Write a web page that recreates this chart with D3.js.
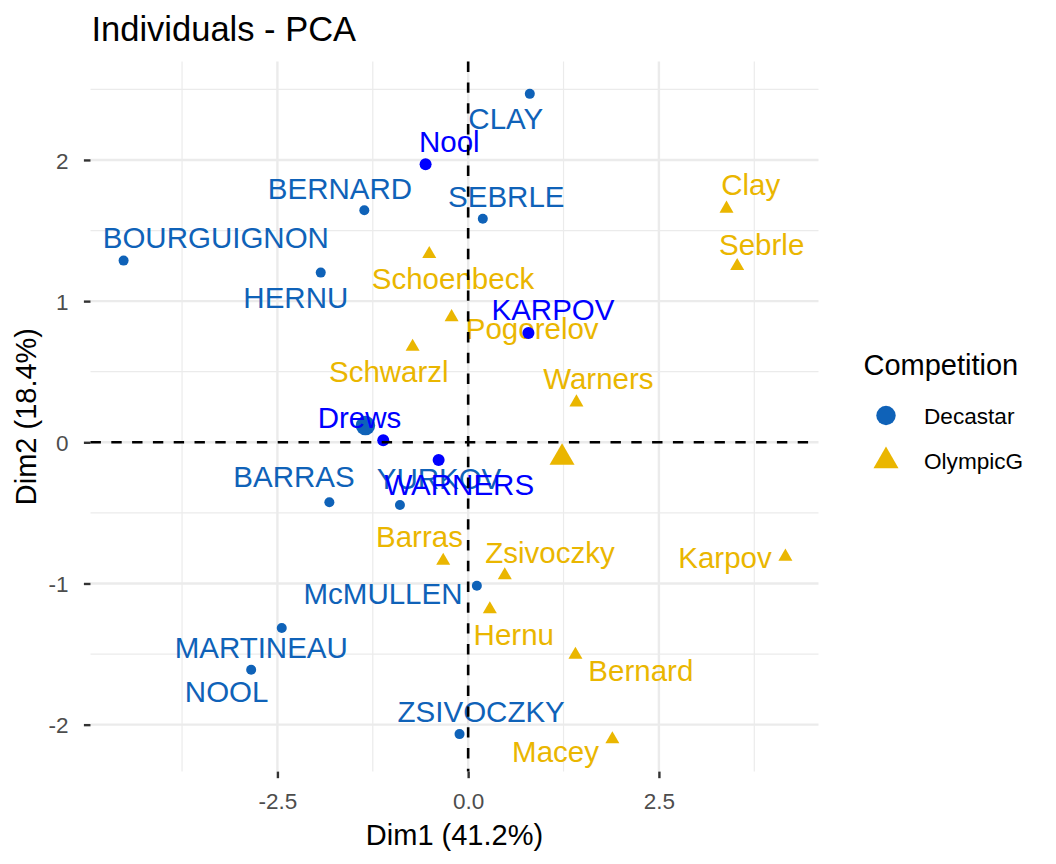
<!DOCTYPE html>
<html>
<head>
<meta charset="utf-8">
<script src="https://cdn.jsdelivr.net/npm/d3@7"></script>
<style>
  body { margin: 0; background: #ffffff; }
  text { font-family: "Liberation Sans", Arial, Helvetica, sans-serif; }
</style>
</head>
<body>
<svg id="chart" width="1056" height="864"></svg>
<script>
// ---------------- data ----------------
const decastarNames = ["SEBRLE","CLAY","BERNARD","YURKOV","ZSIVOCZKY","McMULLEN","MARTINEAU","HERNU","BARRAS","NOOL","BOURGUIGNON"];
const decastarDim1  = [0.192, 0.808, -1.361, -0.894, -0.113, 0.114, -2.443, -1.932, -1.819, -2.844, -4.516];
const decastarDim2  = [1.584, 2.468, 1.644, -0.444, -2.067, -1.016, -1.316, 1.202, -0.425, -1.611, 1.287];
// repelled label anchors (data units)
const decastarLabelDim1 = [0.500, 0.493, -1.680, -0.382, 0.171, -1.116, -2.712, -2.259, -2.283, -3.165, -3.307];
const decastarLabelDim2 = [1.669, 2.218, 1.724, -0.330, -1.979, -1.145, -1.530, 0.950, -0.314, -1.842, 1.375];

const olympicNames = ["Sebrle","Clay","Karpov","Macey","Warners","Zsivoczky","Hernu","Bernard","Schwarzl","Pogorelov","Schoenbeck","Barras"];
const olympicDim1  = [3.526, 3.386, 4.158, 1.890, 1.419, 0.480, 0.284, 1.406, -0.728, -0.217, -0.510, -0.327];
const olympicDim2  = [1.249, 1.655, -0.810, -2.104, 0.283, -0.942, -1.183, -1.505, 0.677, 0.886, 1.334, -0.839];
const olympicLabelDim1 = [3.847, 3.704, 3.366, 1.145, 1.707, 1.073, 0.598, 2.263, -1.040, 0.839, -0.199, -0.638];
const olympicLabelDim2 = [1.327, 1.752, -0.892, -2.263, 0.381, -0.857, -1.436, -1.691, 0.430, 0.732, 1.084, -0.744];

const supNames = ["KARPOV","WARNERS","Nool","Drews"];
const supDim1  = [0.790, -0.387, -0.558, -1.113];
const supDim2  = [0.774, -0.125, 1.970, 0.014];
const supLabelDim1 = [1.112, -0.117, -0.247, -1.424];
const supLabelDim2 = [0.867, -0.373, 2.059, 0.0995];

const groups = ["Decastar", "OlympicG"];

const xTickValues = [-2.5, 0, 2.5];
const xTickLabels = ["-2.5", "0.0", "2.5"];
const xMinorValues = [-3.75, -1.25, 1.25, 3.75];
const yTickValues = [-2, -1, 0, 1, 2];
const yTickLabels = ["-2", "-1", "0", "1", "2"];
const yMinorValues = [-1.5, -0.5, 0.5, 1.5, 2.5];

const titleText = "Individuals - PCA";
const xTitle = "Dim1 (41.2%)";
const yTitle = "Dim2 (18.4%)";
const legendTitle = "Competition";

// ---------------- layout / style ----------------
const W = 1056, H = 864;
const panel = { left: 90.5, right: 818.5, top: 61.6, bottom: 771.6 };
const colDec = "#0F62B8";
const colOly = "#EAB600";
const colSup = "#0000FF";
const gridCol = "#EBEBEB";
const labelFont = 29.5;
const tickFont = 22.5;

const svg = d3.select("#chart");
svg.append("rect").attr("width", W).attr("height", H).attr("fill", "#fff");

const decastar = decastarNames.map((n, i) => ({ name: n, x: decastarDim1[i], y: decastarDim2[i], lx: decastarLabelDim1[i], ly: decastarLabelDim2[i] }));
const olympic  = olympicNames.map((n, i) => ({ name: n, x: olympicDim1[i], y: olympicDim2[i], lx: olympicLabelDim1[i], ly: olympicLabelDim2[i] }));
const sup      = supNames.map((n, i) => ({ name: n, x: supDim1[i], y: supDim2[i], lx: supLabelDim1[i], ly: supLabelDim2[i] }));
const means = [
  { g: "Decastar", x: d3.mean(decastarDim1), y: d3.mean(decastarDim2) },
  { g: "OlympicG", x: d3.mean(olympicDim1), y: d3.mean(olympicDim2) }
];

const all = decastar.concat(olympic, sup);
const xExt = d3.extent(all, d => d.x), yExt = d3.extent(all, d => d.y);
const xPad = (xExt[1] - xExt[0]) * 0.05, yPad = (yExt[1] - yExt[0]) * 0.05;

const x = d3.scaleLinear().domain([xExt[0] - xPad, xExt[1] + xPad]).range([panel.left, panel.right]);
const y = d3.scaleLinear().domain([yExt[0] - yPad, yExt[1] + yPad]).range([panel.bottom, panel.top]);

// ---------------- grid ----------------
const grid = svg.append("g");
grid.selectAll(".xminor").data(xMinorValues).enter().append("line")
  .attr("x1", d => x(d)).attr("x2", d => x(d)).attr("y1", panel.top).attr("y2", panel.bottom)
  .attr("stroke", gridCol).attr("stroke-width", 1.2);
grid.selectAll(".yminor").data(yMinorValues.filter(v => y(v) >= panel.top)).enter().append("line")
  .attr("y1", d => y(d)).attr("y2", d => y(d)).attr("x1", panel.left).attr("x2", panel.right)
  .attr("stroke", gridCol).attr("stroke-width", 1.2);
grid.selectAll(".xmajor").data(xTickValues).enter().append("line")
  .attr("x1", d => x(d)).attr("x2", d => x(d)).attr("y1", panel.top).attr("y2", panel.bottom)
  .attr("stroke", gridCol).attr("stroke-width", 2.4);
grid.selectAll(".ymajor").data(yTickValues).enter().append("line")
  .attr("y1", d => y(d)).attr("y2", d => y(d)).attr("x1", panel.left).attr("x2", panel.right)
  .attr("stroke", gridCol).attr("stroke-width", 2.4);

// ---------------- axes ----------------
const xAxis = d3.axisBottom(x).tickValues(xTickValues).tickSize(6.6).tickPadding(12)
  .tickFormat((d, i) => xTickLabels[i]);
const gx = svg.append("g").attr("transform", `translate(0,${panel.bottom})`).call(xAxis);
gx.select(".domain").remove();
gx.selectAll(".tick line").attr("stroke", "#333333").attr("stroke-width", 2.4);
gx.selectAll(".tick text").attr("fill", "#4D4D4D").attr("font-size", tickFont)
  .attr("font-family", "'Liberation Sans', Arial, sans-serif").attr("dy", null).attr("y", 37.5)
  .attr("dominant-baseline", "auto");

const yAxis = d3.axisLeft(y).tickValues(yTickValues).tickSize(6.6).tickPadding(15.5)
  .tickFormat((d, i) => yTickLabels[i]);
const gy = svg.append("g").attr("transform", `translate(${panel.left},0)`).call(yAxis);
gy.select(".domain").remove();
gy.selectAll(".tick line").attr("stroke", "#333333").attr("stroke-width", 2.4);
gy.selectAll(".tick text").attr("fill", "#4D4D4D").attr("font-size", tickFont)
  .attr("font-family", "'Liberation Sans', Arial, sans-serif").attr("dy", "0.36em");

// ---------------- marks ----------------
const tri = (area) => d3.symbol().type(d3.symbolTriangle).size(area)();

const marks = svg.append("g");
// Decastar points
marks.selectAll(".dec").data(decastar).enter().append("circle")
  .attr("cx", d => x(d.x)).attr("cy", d => y(d.y)).attr("r", 5).attr("fill", colDec);
// OlympicG points
marks.selectAll(".oly").data(olympic).enter().append("path")
  .attr("d", tri(85)).attr("transform", d => `translate(${x(d.x)},${y(d.y)})`).attr("fill", colOly);
// labels
marks.selectAll(".decl").data(decastar).enter().append("text")
  .attr("x", d => x(d.lx)).attr("y", d => y(d.ly)).attr("text-anchor", "middle")
  .attr("font-size", labelFont).attr("fill", colDec).text(d => d.name);
marks.selectAll(".olyl").data(olympic).enter().append("text")
  .attr("x", d => x(d.lx)).attr("y", d => y(d.ly)).attr("text-anchor", "middle")
  .attr("font-size", labelFont).attr("fill", colOly).text(d => d.name);
// group means
marks.append("circle").attr("cx", x(means[0].x)).attr("cy", y(means[0].y)).attr("r", 9.7).attr("fill", colDec);
marks.append("path").attr("d", tri(271)).attr("transform", `translate(${x(means[1].x)},${y(means[1].y)})`).attr("fill", colOly);
// supplementary
marks.selectAll(".sup").data(sup).enter().append("circle")
  .attr("cx", d => x(d.x)).attr("cy", d => y(d.y)).attr("r", 6).attr("fill", colSup);
marks.selectAll(".supl").data(sup).enter().append("text")
  .attr("x", d => x(d.lx)).attr("y", d => y(d.ly)).attr("text-anchor", "middle")
  .attr("font-size", labelFont).attr("fill", colSup).text(d => d.name);

// reference dashed lines
svg.append("line").attr("x1", panel.left).attr("x2", panel.right).attr("y1", y(0)).attr("y2", y(0))
  .attr("stroke", "#000").attr("stroke-width", 2.6).attr("stroke-dasharray", "10.4,10.4");
svg.append("line").attr("y1", panel.top).attr("y2", panel.bottom).attr("x1", x(0)).attr("x2", x(0))
  .attr("stroke", "#000").attr("stroke-width", 2.6).attr("stroke-dasharray", "10.4,10.4");

// ---------------- titles ----------------
svg.append("text").attr("x", panel.left + 1).attr("y", 40.7).attr("font-size", 34.5).attr("fill", "#000").text(titleText);
svg.append("text").attr("x", (panel.left + panel.right) / 2).attr("y", 845).attr("text-anchor", "middle")
  .attr("font-size", 29).attr("fill", "#000").text(xTitle);
svg.append("text").attr("transform", `translate(36,${(panel.top + panel.bottom) / 2}) rotate(-90)`)
  .attr("text-anchor", "middle").attr("font-size", 29).attr("fill", "#000").text(yTitle);

// ---------------- legend ----------------
const leg = svg.append("g");
leg.append("text").attr("x", 863.5).attr("y", 375).attr("font-size", 29).attr("fill", "#000").text(legendTitle);
const legY = d3.scalePoint().domain(groups).range([415.5, 461]);
leg.append("circle").attr("cx", 886).attr("cy", legY("Decastar")).attr("r", 9.7).attr("fill", colDec);
leg.append("path").attr("d", tri(271)).attr("transform", `translate(886,${legY("OlympicG")})`).attr("fill", colOly);
leg.selectAll(".lt").data(groups).enter().append("text")
  .attr("x", 924).attr("y", d => legY(d) + 8).attr("font-size", 22.6).attr("fill", "#000").text(d => d);
</script>
</body>
</html>
